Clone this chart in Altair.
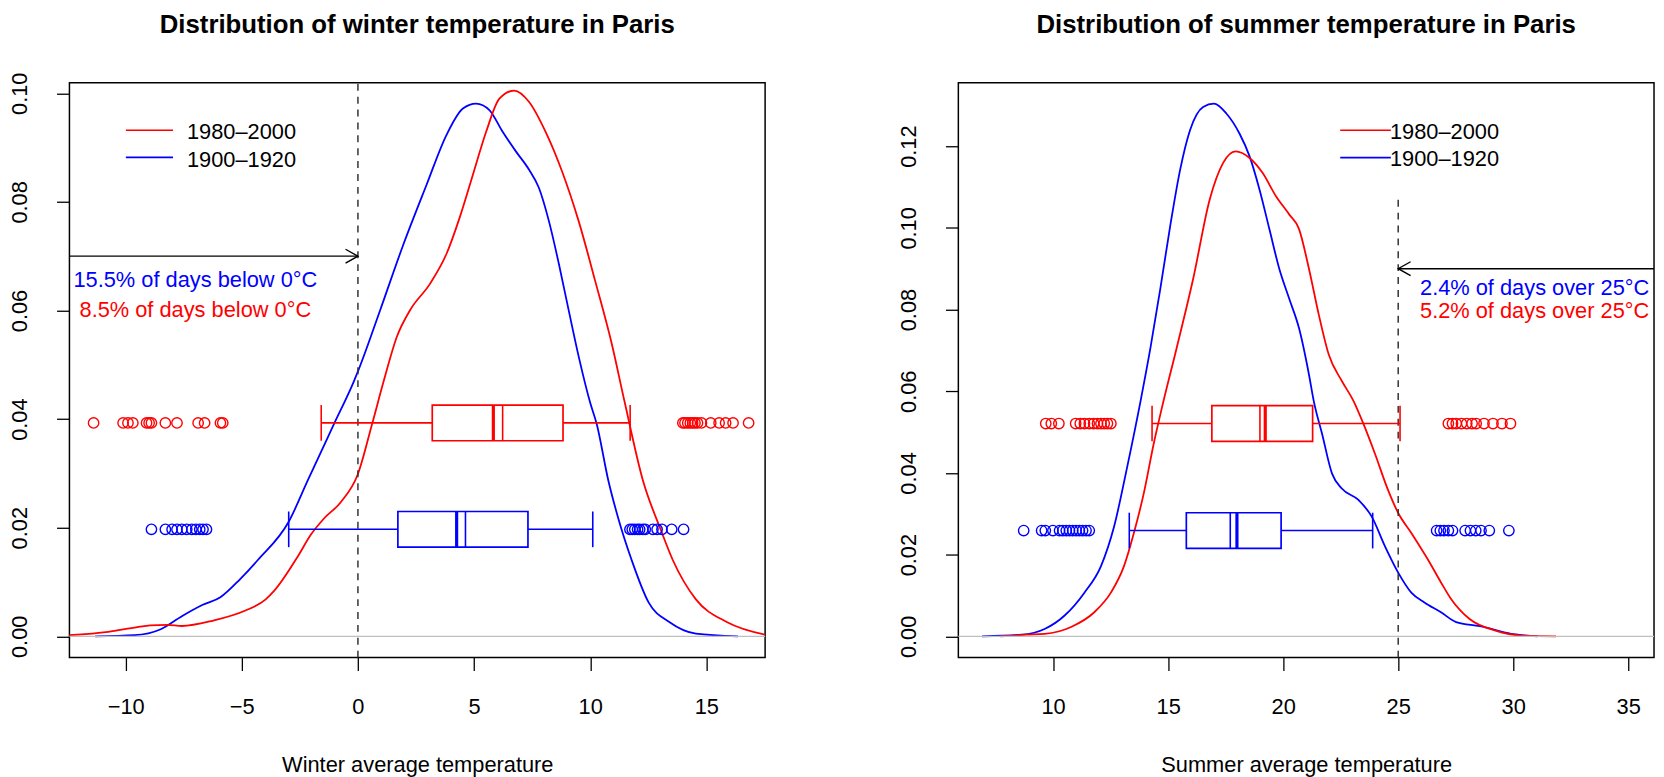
import altair as alt
import pandas as pd

RED = "#FF0000"
BLUE = "#0000FF"
FONT = "Liberation Sans"
PLOT_W, PLOT_H = 702, 580
HALF = 18  # half box height in px

# ---------------- winter data ----------------
W_RED_T = [-12.42, -10.75, -9.5, -8.94, -8.2, -7.58, -6.23, -4.87, -3.97, -3.60, -2.59, -2.03,
           -1.46, -0.74, 0.0, 0.61, 1.11, 1.68, 2.25, 3.10, 3.81, 4.38, 4.95, 5.52, 6.09, 6.73,
           7.37, 8.08, 8.79, 9.50, 10.21, 10.92, 11.49, 12.27, 13.03, 13.55, 14.55, 15.9, 17.53]
W_RED_D = [0.0002, 0.0008, 0.0017, 0.0020, 0.0021, 0.0019, 0.0029, 0.0047, 0.0068, 0.0084, 0.0147,
           0.0187, 0.0217, 0.0247, 0.0299, 0.0391, 0.0470, 0.0552, 0.0601, 0.0649, 0.0704, 0.0771,
           0.0850, 0.0929, 0.0990, 0.1005, 0.0984, 0.0929, 0.0856, 0.0765, 0.0655, 0.0540, 0.0430,
           0.0287, 0.0197, 0.0141, 0.0068, 0.0026, 0.0003]
W_BLUE_T = [-11.31, -9.62, -8.49, -7.58, -6.68, -5.92, -5.08, -4.30, -2.98, -2.16, -1.03, -0.17,
            0.03, 0.96, 1.96, 2.96, 3.81, 4.52, 5.09, 5.66, 6.23, 6.80, 7.37, 7.79, 8.22, 8.65,
            9.07, 9.50, 10.0, 10.28, 10.78, 11.21, 11.78, 12.52, 13.42, 14.55, 16.36]
W_BLUE_D = [0.0, 0.0002, 0.0013, 0.0037, 0.0058, 0.0072, 0.0105, 0.0141, 0.0211, 0.0287, 0.0391,
            0.0470, 0.0491, 0.0601, 0.0722, 0.0832, 0.0923, 0.0972, 0.0981, 0.0969, 0.0929, 0.0893,
            0.0859, 0.0826, 0.0765, 0.0686, 0.0601, 0.0516, 0.0430, 0.0391, 0.0287, 0.0217, 0.0141,
            0.0062, 0.0026, 0.0005, 0.0]
# boxplot stats: whisker low, q1, thick line, thin line, q3, whisker high
W_RED_BOX = [-1.58, 3.20, 5.83, 6.23, 8.83, 11.72]
W_BLUE_BOX = [-2.98, 1.72, 4.25, 4.63, 7.32, 10.11]
W_BOX_Y = [0.0393, 0.0197]
W_RED_OUT = [-11.38, -10.11, -9.90, -9.69, -9.10, -8.99, -8.89, -8.29, -7.79, -6.88, -6.60, -5.92,
             -5.82, 13.99, 14.08, 14.2, 14.31, 14.41, 14.51, 14.62, 14.79, 15.19, 15.55, 15.83,
             16.15, 16.82]
W_BLUE_OUT = [-8.89, -8.29, -8.0, -7.79, -7.58, -7.37, -7.15, -6.98, -6.81, -6.67, -6.52, 11.71,
              11.81, 11.92, 12.04, 12.13, 12.27, 12.37, 12.7, 12.88, 13.09, 13.51, 14.02]

# ---------------- summer data ----------------
S_RED_T = [7.71, 8.86, 9.63, 10.78, 11.79, 12.51, 13.08, 13.51, 13.94, 14.37, 14.73, 15.37, 16.09,
           16.81, 17.39, 17.93, 18.54, 19.11, 19.68, 20.26, 20.69, 21.12, 21.55, 21.98, 22.55,
           23.06, 23.49, 23.99, 24.56, 25.00, 25.57, 26.29, 26.86, 27.29, 28.09, 29.23, 30.38, 31.86]
S_RED_D = [0.0, 0.0004, 0.0006, 0.0023, 0.0059, 0.0107, 0.0172, 0.0253, 0.0350, 0.0471, 0.0560,
           0.0706, 0.0876, 0.1070, 0.1159, 0.1187, 0.1171, 0.1134, 0.1078, 0.1033, 0.0997, 0.0900,
           0.0787, 0.0690, 0.0625, 0.0576, 0.0520, 0.0447, 0.0358, 0.0302, 0.0253, 0.0188, 0.0132,
           0.0092, 0.0043, 0.0014, 0.0002, 0.0]
S_BLUE_T = [6.91, 8.63, 9.63, 10.50, 11.36, 12.08, 12.65, 13.22, 13.80, 14.23, 14.66, 15.09, 15.52,
            15.95, 16.52, 16.99, 17.53, 18.10, 18.54, 18.97, 19.40, 19.83, 20.26, 20.69, 21.12,
            21.33, 21.69, 22.12, 22.55, 23.27, 23.85, 24.42, 25.00, 25.57, 26.14, 26.86, 27.52,
            28.55, 29.92, 31.06]
S_BLUE_D = [0.0, 0.0004, 0.0018, 0.0051, 0.0107, 0.0172, 0.0269, 0.0415, 0.0576, 0.0706, 0.0851,
            0.1005, 0.1142, 0.1239, 0.1296, 0.1304, 0.1280, 0.1231, 0.1175, 0.1094, 0.0997, 0.0900,
            0.0827, 0.0754, 0.0641, 0.0576, 0.0496, 0.0399, 0.0362, 0.0334, 0.0293, 0.0221, 0.0156,
            0.0107, 0.0083, 0.0059, 0.0035, 0.0025, 0.0006, 0.0]
S_RED_BOX = [14.30, 16.90, 19.22, 18.99, 21.28, 25.08]
S_BLUE_BOX = [13.31, 15.79, 17.99, 17.70, 19.91, 23.89]
S_BOX_Y = [0.0521, 0.0259]
S_RED_OUT = [9.68, 9.92, 10.25, 10.98, 11.18, 11.36, 11.57, 11.76, 11.93, 12.08, 12.22, 12.36, 12.51,
             27.18, 27.36, 27.52, 27.75, 27.98, 28.21, 28.39, 28.73, 29.12, 29.51, 29.88]
S_BLUE_OUT = [8.72, 9.5, 9.66, 9.99, 10.28, 10.42, 10.57, 10.71, 10.85, 11.0, 11.14, 11.28, 11.43,
              11.57, 26.67, 26.83, 26.99, 27.18, 27.36, 27.91, 28.14, 28.37, 28.6, 28.96, 29.81]

LEGEND_LABELS = ["1980–2000", "1900–1920"]

W_NOTES = ["15.5% of days below 0°C", "8.5% of days below 0°C"]
S_NOTES = ["2.4% of days over 25°C", "5.2% of days over 25°C"]


def panel(title, xtitle, xdom, ydom, xticks, yticks, red_t, red_d, blue_t, blue_d,
          red_box, blue_box, box_y, red_out, blue_out, vline_x, vline_top, arrow_x, arrow_y,
          arrow_shape, notes, note_x, note_y, leg_x1, leg_x2, leg_tx, leg_ly, leg_ty):
    xs = alt.Scale(domain=xdom, nice=False, zero=False, padding=0)
    ys = alt.Scale(domain=ydom, nice=False, zero=False, padding=0)

    xaxis = alt.Axis(orient="bottom", values=xticks, format="d", title=xtitle, domain=False,
                     ticks=True, tickSize=13, tickWidth=1.3, tickColor="black",
                     labelFontSize=22, labelColor="black", labelFont=FONT, labelPadding=26,
                     labelBaseline="top", labelFlush=False, labelOverlap=False,
                     titleFontSize=22, titleFontWeight="normal", titleColor="black",
                     titleFont=FONT, titleBaseline="alphabetic", titlePadding=56,
                     minExtent=59, maxExtent=59, grid=False)
    yaxis = alt.Axis(orient="left", values=yticks, format=".2f", title="", domain=False,
                     ticks=True, tickSize=13, tickWidth=1.3, tickColor="black",
                     labelFontSize=22, labelColor="black", labelFont=FONT, labelAngle=270,
                     labelAlign="center", labelBaseline="alphabetic", labelPadding=30,
                     labelFlush=False, labelOverlap=False, grid=False)

    def X(f):
        return alt.X(f, type="quantitative", scale=xs, axis=xaxis)

    def Y(f):
        return alt.Y(f, type="quantitative", scale=ys, axis=yaxis)

    layers = []
    # density curves (blue first)
    blue_df = pd.DataFrame({"t": blue_t, "d": blue_d})
    red_df = pd.DataFrame({"t": red_t, "d": red_d})
    layers.append(alt.Chart(blue_df).mark_line(color=BLUE, strokeWidth=1.8,
                                               interpolate="monotone").encode(
        x=X("t"), y=Y("d")))
    layers.append(alt.Chart(red_df).mark_line(color=RED, strokeWidth=1.8,
                                              interpolate="monotone").encode(
        x=X("t"), y=Y("d")))

    # grey zero line across the plot
    zero = pd.DataFrame({"x1": [xdom[0]], "x2": [xdom[1]], "y": [0.0]})
    layers.append(alt.Chart(zero).mark_rule(color="#BEBEBE", strokeWidth=1.2).encode(
        x=X("x1"), x2="x2", y=Y("y")))

    # dashed vertical line
    vdf = pd.DataFrame({"x": [vline_x], "y1": [ydom[0]], "y2": [vline_top]})
    layers.append(alt.Chart(vdf).mark_rule(color="#333333", strokeWidth=1.5,
                                           strokeDash=[7, 6]).encode(
        x=X("x"), y=Y("y1"), y2="y2"))

    # boxplots
    for stats, yc, col, outs in ((red_box, box_y[0], RED, red_out),
                                 (blue_box, box_y[1], BLUE, blue_out)):
        b = pd.DataFrame({"lo": [stats[0]], "q1": [stats[1]], "thick": [stats[2]],
                          "thin": [stats[3]], "q3": [stats[4]], "hi": [stats[5]], "yc": [yc]})
        layers.append(alt.Chart(b).mark_rect(fill="transparent", stroke=col, strokeWidth=1.7,
                                             yOffset=-HALF, y2Offset=HALF).encode(
            x=X("q1"), x2="q3", y=Y("yc"), y2="yc"))
        layers.append(alt.Chart(b).mark_rule(color=col, strokeWidth=1.6).encode(
            x=X("lo"), x2="q1", y=Y("yc")))
        layers.append(alt.Chart(b).mark_rule(color=col, strokeWidth=1.6).encode(
            x=X("q3"), x2="hi", y=Y("yc")))
        for fld, w in (("lo", 1.6), ("hi", 1.6), ("thick", 3.2), ("thin", 1.6)):
            layers.append(alt.Chart(b).mark_rule(color=col, strokeWidth=w, yOffset=-HALF,
                                                 y2Offset=HALF).encode(
                x=X(fld), y=Y("yc"), y2="yc"))
        o = pd.DataFrame({"x": outs, "y": [yc] * len(outs)})
        layers.append(alt.Chart(o).mark_point(shape="circle", filled=False, color=col,
                                              size=110, strokeWidth=1.4, opacity=1).encode(
            x=X("x"), y=Y("y")))

    # arrow
    adf = pd.DataFrame({"x1": [arrow_x[0]], "x2": [arrow_x[1]], "y": [arrow_y]})
    layers.append(alt.Chart(adf).mark_rule(color="black", strokeWidth=1.4).encode(
        x=X("x1"), x2="x2", y=Y("y")))
    hdf = pd.DataFrame({"x": [vline_x], "y": [arrow_y]})
    layers.append(alt.Chart(hdf).mark_point(shape=arrow_shape, filled=False, color="black",
                                            size=625, strokeWidth=1.4, opacity=1).encode(
        x=X("x"), y=Y("y")))

    # notes
    ndf = pd.DataFrame({"x": [note_x, note_x], "y": note_y, "txt": notes, "c": [BLUE, RED]})
    layers.append(alt.Chart(ndf).mark_text(fontSize=22, font=FONT, align="center",
                                           baseline="alphabetic").encode(
        x=X("x"), y=Y("y"), text="txt:N", color=alt.Color("c:N", scale=None)))

    # legend
    ldf = pd.DataFrame({"x1": [leg_x1, leg_x1], "x2": [leg_x2, leg_x2], "ly": leg_ly,
                        "tx": [leg_tx, leg_tx], "ty": leg_ty, "lab": LEGEND_LABELS,
                        "c": [RED, BLUE]})
    layers.append(alt.Chart(ldf).mark_rule(strokeWidth=1.6).encode(
        x=X("x1"), x2="x2", y=Y("ly"), color=alt.Color("c:N", scale=None)))
    layers.append(alt.Chart(ldf).mark_text(fontSize=22, font=FONT, align="left",
                                           baseline="alphabetic", color="black").encode(
        x=X("tx"), y=Y("ty"), text="lab:N"))

    # panel title (bold, centred over the plot area)
    tdf = pd.DataFrame({"t": [title]})
    layers.append(alt.Chart(tdf).mark_text(fontSize=26, fontWeight="bold", font=FONT,
                                           align="center", baseline="alphabetic",
                                           color="black").encode(
        x=alt.value(PLOT_W / 2), y=alt.value(-50), text="t:N"))

    return alt.layer(*layers).properties(width=PLOT_W, height=PLOT_H)


winter = panel("Distribution of winter temperature in Paris", "Winter average temperature",
               [-12.42, 17.53], [-0.00392, 0.10192], [-10, -5, 0, 5, 10, 15],
               [0.0, 0.02, 0.04, 0.06, 0.08, 0.10],
               W_RED_T, W_RED_D, W_BLUE_T, W_BLUE_D, W_RED_BOX, W_BLUE_BOX, W_BOX_Y,
               W_RED_OUT, W_BLUE_OUT, 0, 0.10192, [-12.42, 0], 0.07,
               "M -1 -0.56 L 0 0 L -1 0.56", W_NOTES, -7.0, [0.0643, 0.0588],
               -9.99, -7.96, -7.36, [0.0932, 0.0882], [0.0915, 0.0865])

summer = panel("Distribution of summer temperature in Paris", "Summer average temperature",
               [5.88, 36.12], [-0.0052, 0.1355], [10, 15, 20, 25, 30, 35],
               [0.0, 0.02, 0.04, 0.06, 0.08, 0.10, 0.12],
               S_RED_T, S_RED_D, S_BLUE_T, S_BLUE_D, S_RED_BOX, S_BLUE_BOX, S_BOX_Y,
               S_RED_OUT, S_BLUE_OUT, 25, 0.1083, [25, 36.12], 0.09,
               "M 1 -0.56 L 0 0 L 1 0.56", S_NOTES, 30.93, [0.0835, 0.0779],
               22.48, 24.68, 24.64, [0.1239, 0.1172], [0.1217, 0.1151])

chart = alt.hconcat(winter, summer, spacing=128).properties(
    padding={"left": 0, "top": 0, "right": 0, "bottom": 0}
).configure(font=FONT).configure_view(stroke="black", strokeWidth=1.5)

chart.save("out.html", embed_options={"renderer": "svg", "actions": False})
